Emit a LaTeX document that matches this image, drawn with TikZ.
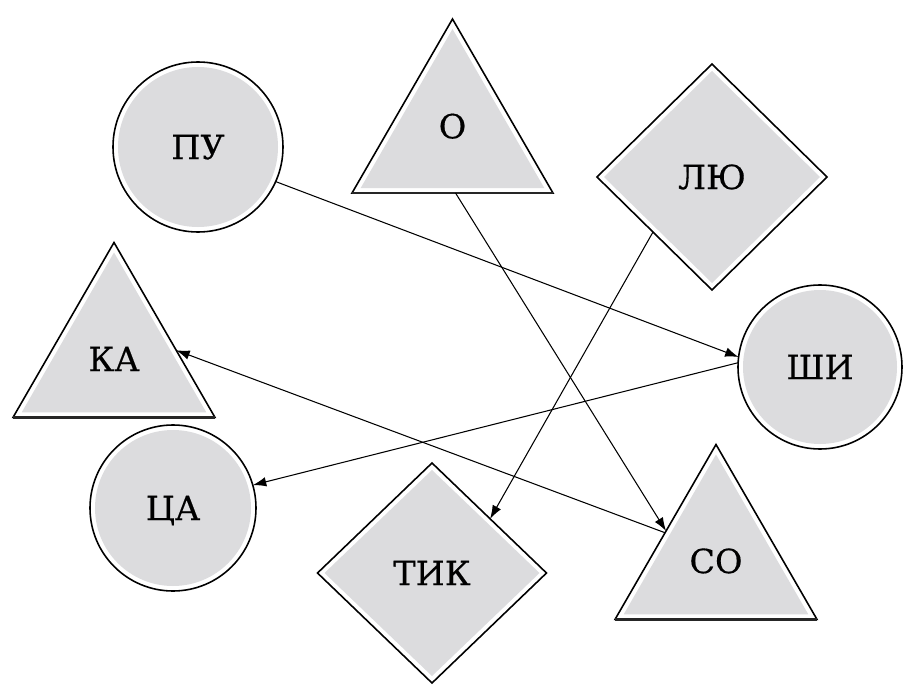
\documentclass[tikz,border=0pt]{standalone}
\usepackage{fontspec}
\setmainfont{DejaVu Serif}[FakeBold=0.4]
\usetikzlibrary{shapes.geometric,arrows.meta}
\definecolor{shapegrey}{RGB}{220,220,222}
\def\pxu{0.02cm}
\tikzset{
  outerbase/.style={draw=black, line width=0.9pt, fill=white, inner sep=0pt, outer sep=0pt},
  innerbase/.style={fill=shapegrey, draw=none, inner sep=0pt, outer sep=0pt,
    font=\fontsize{19}{22}\selectfont, text height=13.8pt, text depth=0pt},
  circout/.style={outerbase, circle, minimum size=#1*\pxu},
  circin/.style={innerbase, circle, minimum size=(#1-10)*\pxu},
  diaout/.style 2 args={outerbase, diamond, minimum width=#1*\pxu, minimum height=#2*\pxu},
  diain/.style 2 args={innerbase, diamond, minimum width=(#1-14)*\pxu, minimum height=(#2-14)*\pxu},
  triout/.style={outerbase, regular polygon, regular polygon sides=3, minimum size=#1*\pxu},
  triin/.style={innerbase, regular polygon, regular polygon sides=3, minimum size=(#1-20)*\pxu},
  basebar/.style={draw=black!85, line width=1.6pt},
  conn/.style={draw=black, line width=0.6pt, -{Latex[length=0.27cm, width=0.19cm]}}
}
\begin{document}
\begin{tikzpicture}[x=0.02cm, y=-0.02cm]
\useasboundingbox (0,0) rectangle (903,686);
% circles
\node[circout=170] (PU) at (198,147) {};
\node[circin=170] at (PU) {ПУ};
\node[circout=164] (SHI) at (820,367) {};
\node[circin=164] at (SHI) {ШИ};
\node[circout=166] (CA) at (173,508) {};
\node[circin=166] at (CA) {ЦА};
% diamonds
\node[diaout={230}{226}] (LU) at (712,177) {};
\node[diain={230}{226}] at (LU) {ЛЮ};
\node[diaout={229}{220}] (TIK) at (432,573) {};
\node[diain={229}{220}] at (TIK) {ТИК};
% triangles
\node[triout=232] (O) at (452.5,135) {};
\node[triin=232, text depth=10pt] at (O) {О};
\draw[basebar] (O.corner 2) -- (O.corner 3);
\node[triout=233] (KA) at (114,359) {};
\node[triin=233] at (KA) {КА};
\draw[basebar] (KA.corner 2) -- (KA.corner 3);
\node[triout=233] (SO) at (716,561) {};
\node[triin=233] at (SO) {СО};
\draw[basebar] (SO.corner 2) -- (SO.corner 3);
% connectors
\draw[conn] (PU.-24) -- (SHI.173);
\draw[conn] (SHI.177) -- (CA.16);
\draw[conn] (O.-87) -- (SO.149);
\draw[conn] (SO.151) -- (KA.8);
\draw[conn] (LU.223) -- (TIK.43);
\end{tikzpicture}
\end{document}
